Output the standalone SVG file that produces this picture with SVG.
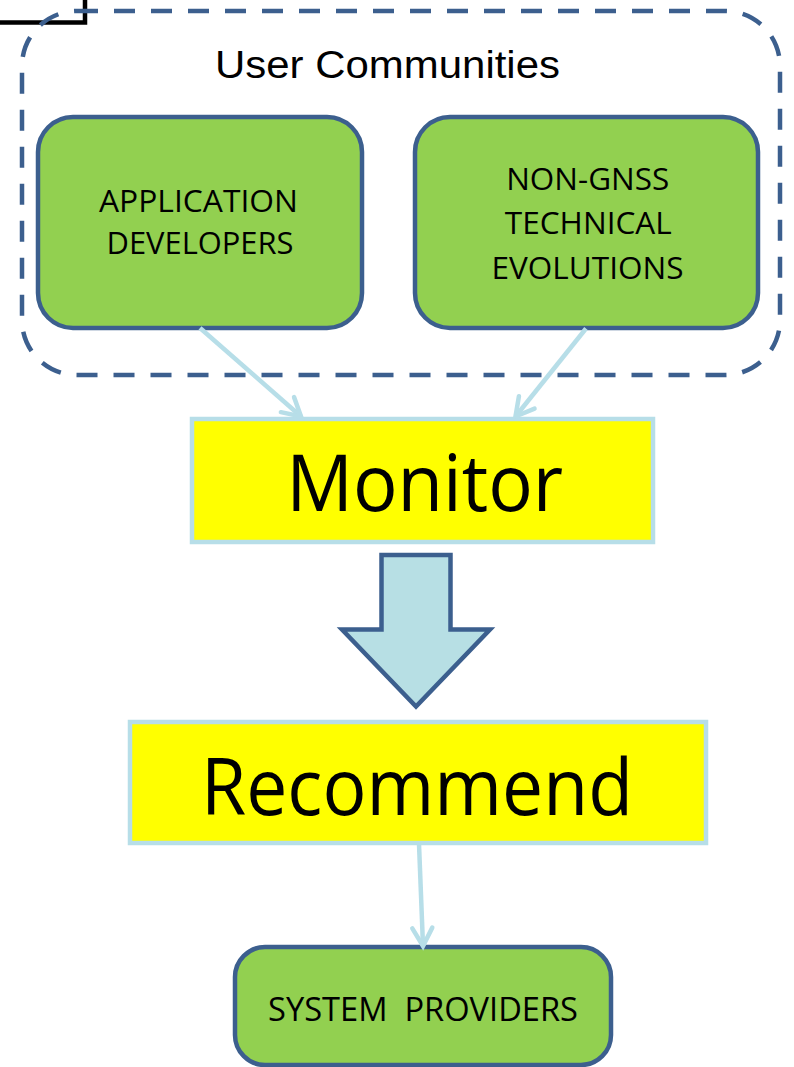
<svg xmlns="http://www.w3.org/2000/svg" width="794" height="1067" viewBox="0 0 794 1067">
<style>
.green{fill:#92D050;stroke:#3C5F8E;stroke-width:4.5}
.yellow{fill:#FFFF00;stroke:#B7DEE8;stroke-width:4.5}
.lbl{font-family:"Open Sans","Noto Sans","Liberation Sans",sans-serif;fill:#000;text-anchor:middle}
.conn{stroke:#B7DEE8;stroke-width:4.5;fill:none}
</style>
<defs>
<marker id="arr" markerUnits="userSpaceOnUse" markerWidth="30" markerHeight="30" viewBox="0 0 30 30" refX="24" refY="15" orient="auto">
<path d="M6,5 L24,15 L6,25" fill="none" stroke="#B7DEE8" stroke-width="4.5" stroke-linecap="round" stroke-linejoin="miter"/>
</marker>
</defs>
<rect width="794" height="1067" fill="#fff"/>
<g id="corner">
<path d="M0,22.5 H85 V0" fill="none" stroke="#000" stroke-width="4.5"/>
</g>
<g id="user-communities">
<rect x="22" y="11" width="758" height="364" rx="55" fill="none" stroke="#3C5F8E" stroke-width="4.5" stroke-dasharray="21 16"/>
<text class="lbl" x="387.5" y="78" style="font-family:'Liberation Sans',Arial,sans-serif" font-size="38" textLength="345" lengthAdjust="spacingAndGlyphs">User Communities</text>
</g>
<g id="app-dev">
<rect class="green" x="38" y="117" width="324" height="211" rx="35"/>
<text class="lbl" x="198.5" y="212" font-size="30.5" textLength="199" lengthAdjust="spacingAndGlyphs">APPLICATION</text>
<text class="lbl" x="200" y="254" font-size="30.5" textLength="187" lengthAdjust="spacingAndGlyphs">DEVELOPERS</text>
</g>
<g id="non-gnss">
<rect class="green" x="415" y="117" width="343" height="211" rx="35"/>
<text class="lbl" x="587.7" y="190" font-size="30.5" textLength="163" lengthAdjust="spacingAndGlyphs">NON-GNSS</text>
<text class="lbl" x="588.3" y="234" font-size="30.5" textLength="167" lengthAdjust="spacingAndGlyphs">TECHNICAL</text>
<text class="lbl" x="587.5" y="279" font-size="30.5" textLength="192" lengthAdjust="spacingAndGlyphs">EVOLUTIONS</text>
</g>
<g id="monitor">
<rect class="yellow" x="192" y="419" width="461" height="123"/>
<text class="lbl" x="424.7" y="511" font-size="79" textLength="277" lengthAdjust="spacingAndGlyphs">Monitor</text>
</g>
<g id="block-arrow">
<path d="M381.5,555 H450.5 V629.5 H490 L416,706.5 L342,629.5 H381.5 Z" fill="#B7DFE4" stroke="#3C5F8E" stroke-width="4.5" stroke-linejoin="miter"/>
</g>
<g id="recommend">
<rect class="yellow" x="130" y="722" width="576" height="121"/>
<text class="lbl" x="417" y="815" font-size="79" textLength="432" lengthAdjust="spacingAndGlyphs">Recommend</text>
</g>
<g id="system-providers">
<rect class="green" x="235" y="947" width="376" height="118" rx="30"/>
<text class="lbl" x="423" y="1021" font-size="32" textLength="310" lengthAdjust="spacingAndGlyphs" xml:space="preserve">SYSTEM  PROVIDERS</text>
</g>
<g id="connectors">
<line class="conn" x1="200" y1="328" x2="301" y2="416.5" marker-end="url(#arr)"/>
<line class="conn" x1="586" y1="328.5" x2="515.5" y2="416.5" marker-end="url(#arr)"/>
<line class="conn" x1="419" y1="844" x2="423" y2="946" marker-end="url(#arr)"/>
</g>
</svg>
